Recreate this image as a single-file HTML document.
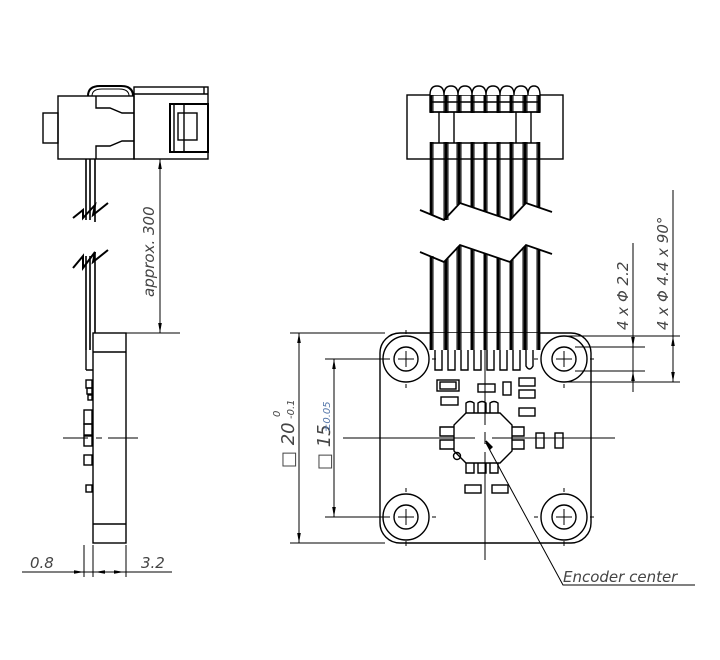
<!DOCTYPE html>
<html><head><meta charset="utf-8"><style>
html,body{margin:0;padding:0;background:#fff;}
svg{display:block}
text{font-family:"DejaVu Sans","Liberation Sans",sans-serif;font-style:italic;fill:#444;}
</style></head><body>
<svg width="720" height="660" viewBox="0 0 720 660" xmlns="http://www.w3.org/2000/svg">
<defs>
<marker id="a" viewBox="0 0 10 10" refX="10" refY="5" markerWidth="10" markerHeight="10" orient="auto-start-reverse" markerUnits="userSpaceOnUse"><path d="M0,3.2L10,5L0,6.8z" fill="#000"/></marker>
</defs>
<g fill="none" stroke="#000" stroke-width="1.4">
<!-- LEFT SIDE VIEW -->
<rect x="43" y="113" width="15" height="30"/>
<rect x="58" y="96" width="76" height="63"/>
<path d="M96,96V108H110L122,113H134M134,141H122L110,146H96V159"/>
<path d="M88,96Q88,86 100,86H121Q133,86 133,96" stroke-width="2"/>
<path d="M92,96Q92,89 102,89H119Q129,89 129,96" stroke-width="1"/>
<rect x="134" y="87" width="74" height="72"/>
<path d="M134,94H208M204,87V94"/>
<rect x="170" y="104" width="38" height="48" stroke-width="2"/>
<rect x="178" y="113" width="19" height="27"/>
<path d="M174,104V152M184,104V152"/>
<!-- cable -->
<path d="M86,159V220M90,159V220M95,159V222M86,256V350M90,256V350M95,252V333" stroke-width="1.6"/>
<path d="M73,218L83,210L83,218L95,205L93,215L108,203" stroke-width="2"/>
<path d="M73,268L83,256L83,268L95,252L93,262L108,250" stroke-width="2"/>
<!-- board -->
<rect x="93" y="333" width="33" height="210"/>
<path d="M93,352H126M93,524H126M86,350V370M86,370H93"/>
<rect x="86" y="380" width="6" height="8"/><rect x="87" y="388" width="5" height="6"/><rect x="88" y="395" width="4" height="5"/>
<rect x="84" y="410" width="8" height="14"/><rect x="84" y="424" width="8" height="11"/><rect x="84" y="436" width="8" height="10"/>
<rect x="84" y="455" width="8" height="10"/><rect x="86" y="485" width="6" height="7"/>
<path d="M63,438H88M96,438H102M108,438H138" stroke-width="1"/>
<!-- dims left -->
<path d="M134,159H180M126,333H180" stroke-width="1"/>
<path d="M160,159V333" stroke-width="1" marker-start="url(#a)" marker-end="url(#a)"/>
<path d="M84,545V577M93,545V577M126,545V577" stroke-width="1"/>
<path d="M22,572H172" stroke-width="1"/>
<path d="M66,572H84" stroke-width="1" marker-end="url(#a)"/>
<path d="M95,572H108" stroke-width="1" marker-start="url(#a)"/>
<path d="M110,572H124" stroke-width="1" marker-end="url(#a)"/>

<!-- FRONT VIEW connector -->
<rect x="407" y="95" width="156" height="64"/>
<rect x="430" y="95" width="110" height="17" fill="#fff"/>
<path d="M430,95Q430,86 437,86Q444,86 444,95Q444,86 451,86Q458,86 458,95Q458,86 465,86Q472,86 472,95Q472,86 479,86Q486,86 486,95Q486,86 493,86Q500,86 500,95Q500,86 507,86Q514,86 514,95Q514,86 521,86Q528,86 528,95Q528,86 534,86Q540,86 540,95" fill="#fff"/>
<path d="M430,102H540" />
<!-- ribbon -->
<path d="M420,210L444,220L460,203L510,220L526,203L552,212" stroke-width="1.8"/>
<path d="M420,252L444,262L460,245L510,262L526,245L552,254" stroke-width="1.8"/>
<g stroke-width="1">
<path d="M433,95V215M444,95V220M448,95V220M457,95V205M461,95V203M471,95V207M474,95V208M484,95V212M487,95V213M497,95V216M500,95V217M510,95V220M513,95V216M523,95V205M527,95V203M537,95V207"/>
<path d="M433,256V350M444,262V350M448,258V350M457,247V350M461,245V350M471,249V350M474,250V350M484,253V350M487,254V350M497,257V350M500,258V350M510,262V350M513,258V350M523,247V350M527,245V350M537,249V350"/>
</g>
<g stroke-width="2.6">
<path d="M431,95V214M446,95V220M459,95V204M472,95V207M485,95V212M498,95V216M511,95V219M525,95V204M539,95V208"/>
<path d="M431,257V350M446,260V350M459,246V350M472,250V350M485,254V350M498,258V350M511,261V350M525,246V350M539,250V350"/>
</g>
<rect x="409" y="113" width="152" height="29" fill="#fff" stroke="none"/>
<path d="M430,112H540M430,143H540M439,112V143M454,112V143M516,112V143M531,112V143"/>
<!-- board -->
<rect x="380" y="333" width="211" height="210" rx="20" fill="none"/>
<rect x="430" y="333" width="110" height="17" fill="#fff" stroke="none"/>
<g stroke-width="1">
<path d="M433,333V350M444,333V350M448,333V350M457,333V350M461,333V350M471,333V350M474,333V350M484,333V350M487,333V350M497,333V350M500,333V350M510,333V350M513,333V350M523,333V350M527,333V350M537,333V350"/>
</g>
<g stroke-width="2.6"><path d="M431,333V350M446,333V350M459,333V350M472,333V350M485,333V350M498,333V350M511,333V350M525,333V350M539,333V350"/></g>
<g stroke-width="1.4">
<path d="M435,350V370H442V350M448,350V370H455V350M461,350V370H468V350M474,350V370H481V350M487,350V370H494V350M500,350V370H507V350M513,350V370H520V350M526,350V366Q529.5,372 533,366V350"/>
</g>
<!-- holes -->
<g>
<circle cx="406" cy="359" r="23"/><circle cx="406" cy="359" r="12"/>
<circle cx="564" cy="359" r="23"/><circle cx="564" cy="359" r="12"/>
<circle cx="406" cy="517" r="23"/><circle cx="406" cy="517" r="12"/>
<circle cx="564" cy="517" r="23"/><circle cx="564" cy="517" r="12"/>
</g>
<g stroke-width="1">
<path d="M398,359H414M406,351V367M556,359H572M564,351V367M398,517H414M406,509V525M556,517H572M564,509V525"/>
<path d="M376,359H380M432,359H436M406,330V334M406,384V388M534,359H538M590,359H594M564,384V388M376,517H380M432,517H436M406,488V492M406,541V546M534,517H538M590,517H594M564,488V492M564,541V546"/>
</g>
<!-- components -->
<g stroke-width="1.4">
<rect x="437" y="380" width="22" height="11"/><rect x="440" y="382" width="16" height="7"/>
<rect x="441" y="397" width="17" height="8"/>
<rect x="478" y="384" width="17" height="8"/>
<rect x="503" y="382" width="8" height="13"/>
<rect x="519" y="378" width="16" height="8"/>
<rect x="519" y="390" width="16" height="8"/>
<rect x="519" y="408" width="16" height="8"/>
<rect x="536" y="433" width="8" height="15"/>
<rect x="555" y="433" width="8" height="15"/>
<rect x="465" y="485" width="16" height="8"/>
<rect x="492" y="485" width="16" height="8"/>
<path d="M466,413L500,413L512,425L512,451L500,463L466,463L454,451L454,425Z"/>
<path d="M466,413V403Q470,400 474,403V413M478,413V403Q482,400 486,403V413M490,413V403Q494,400 498,403V413"/>
<path d="M466,463V473H474V463M478,463V473H486V463M490,463V473H498V463"/>
<path d="M454,427H440V436H454M454,440H440V449H454M512,427H524V436H512M512,440H524V449H512"/>
<circle cx="457" cy="456" r="3.5"/>
</g>
<!-- center lines -->
<g stroke-width="1">
<path d="M343,438H475M492,438H615"/>
<path d="M485,350V425M485,432V444M485,452V560"/>
</g>
<!-- leader -->
<path d="M486,443L563,585H695" stroke-width="1"/>
<path d="M486,441L490,449L492,447Z" fill="#000"/>
<!-- dims square -->
<g stroke-width="1">
<path d="M290,333H385M290,543H385M325,359H390M325,517H390"/>
<path d="M299,333V543" marker-start="url(#a)" marker-end="url(#a)"/>
<path d="M334,359V517" marker-start="url(#a)" marker-end="url(#a)"/>
<path d="M564,336H680M575,347H645M575,371H645M564,382H680"/>
<path d="M633,243V390"/>
<path d="M633,325V347" marker-end="url(#a)"/>
<path d="M633,371V392" marker-start="url(#a)"/>
<path d="M673,190V382"/>
<path d="M673,336V382" marker-start="url(#a)" marker-end="url(#a)"/>
</g>
</g>
<!-- texts -->
<text transform="translate(154,297) rotate(-90)" font-size="15">approx. 300</text>
<text x="30" y="568" font-size="15">0.8</text>
<text x="141" y="568" font-size="15">3.2</text>
<text x="563" y="582" font-size="15">Encoder center</text>
<text transform="translate(294,468) rotate(-90)" font-size="18">□ 20</text>
<text transform="translate(294,419) rotate(-90)" font-size="10">-0.1</text>
<text transform="translate(280,417) rotate(-90)" font-size="10">0</text>
<text transform="translate(330,470) rotate(-90)" font-size="18">□ 15</text>
<text transform="translate(330,432) rotate(-90)" font-size="10" style="fill:#57a">±0.05</text>
<text transform="translate(628,330) rotate(-90)" font-size="15">4 x Φ 2.2</text>
<text transform="translate(668,330) rotate(-90)" font-size="15">4 x Φ 4.4 x 90°</text>
</svg>
</body></html>
